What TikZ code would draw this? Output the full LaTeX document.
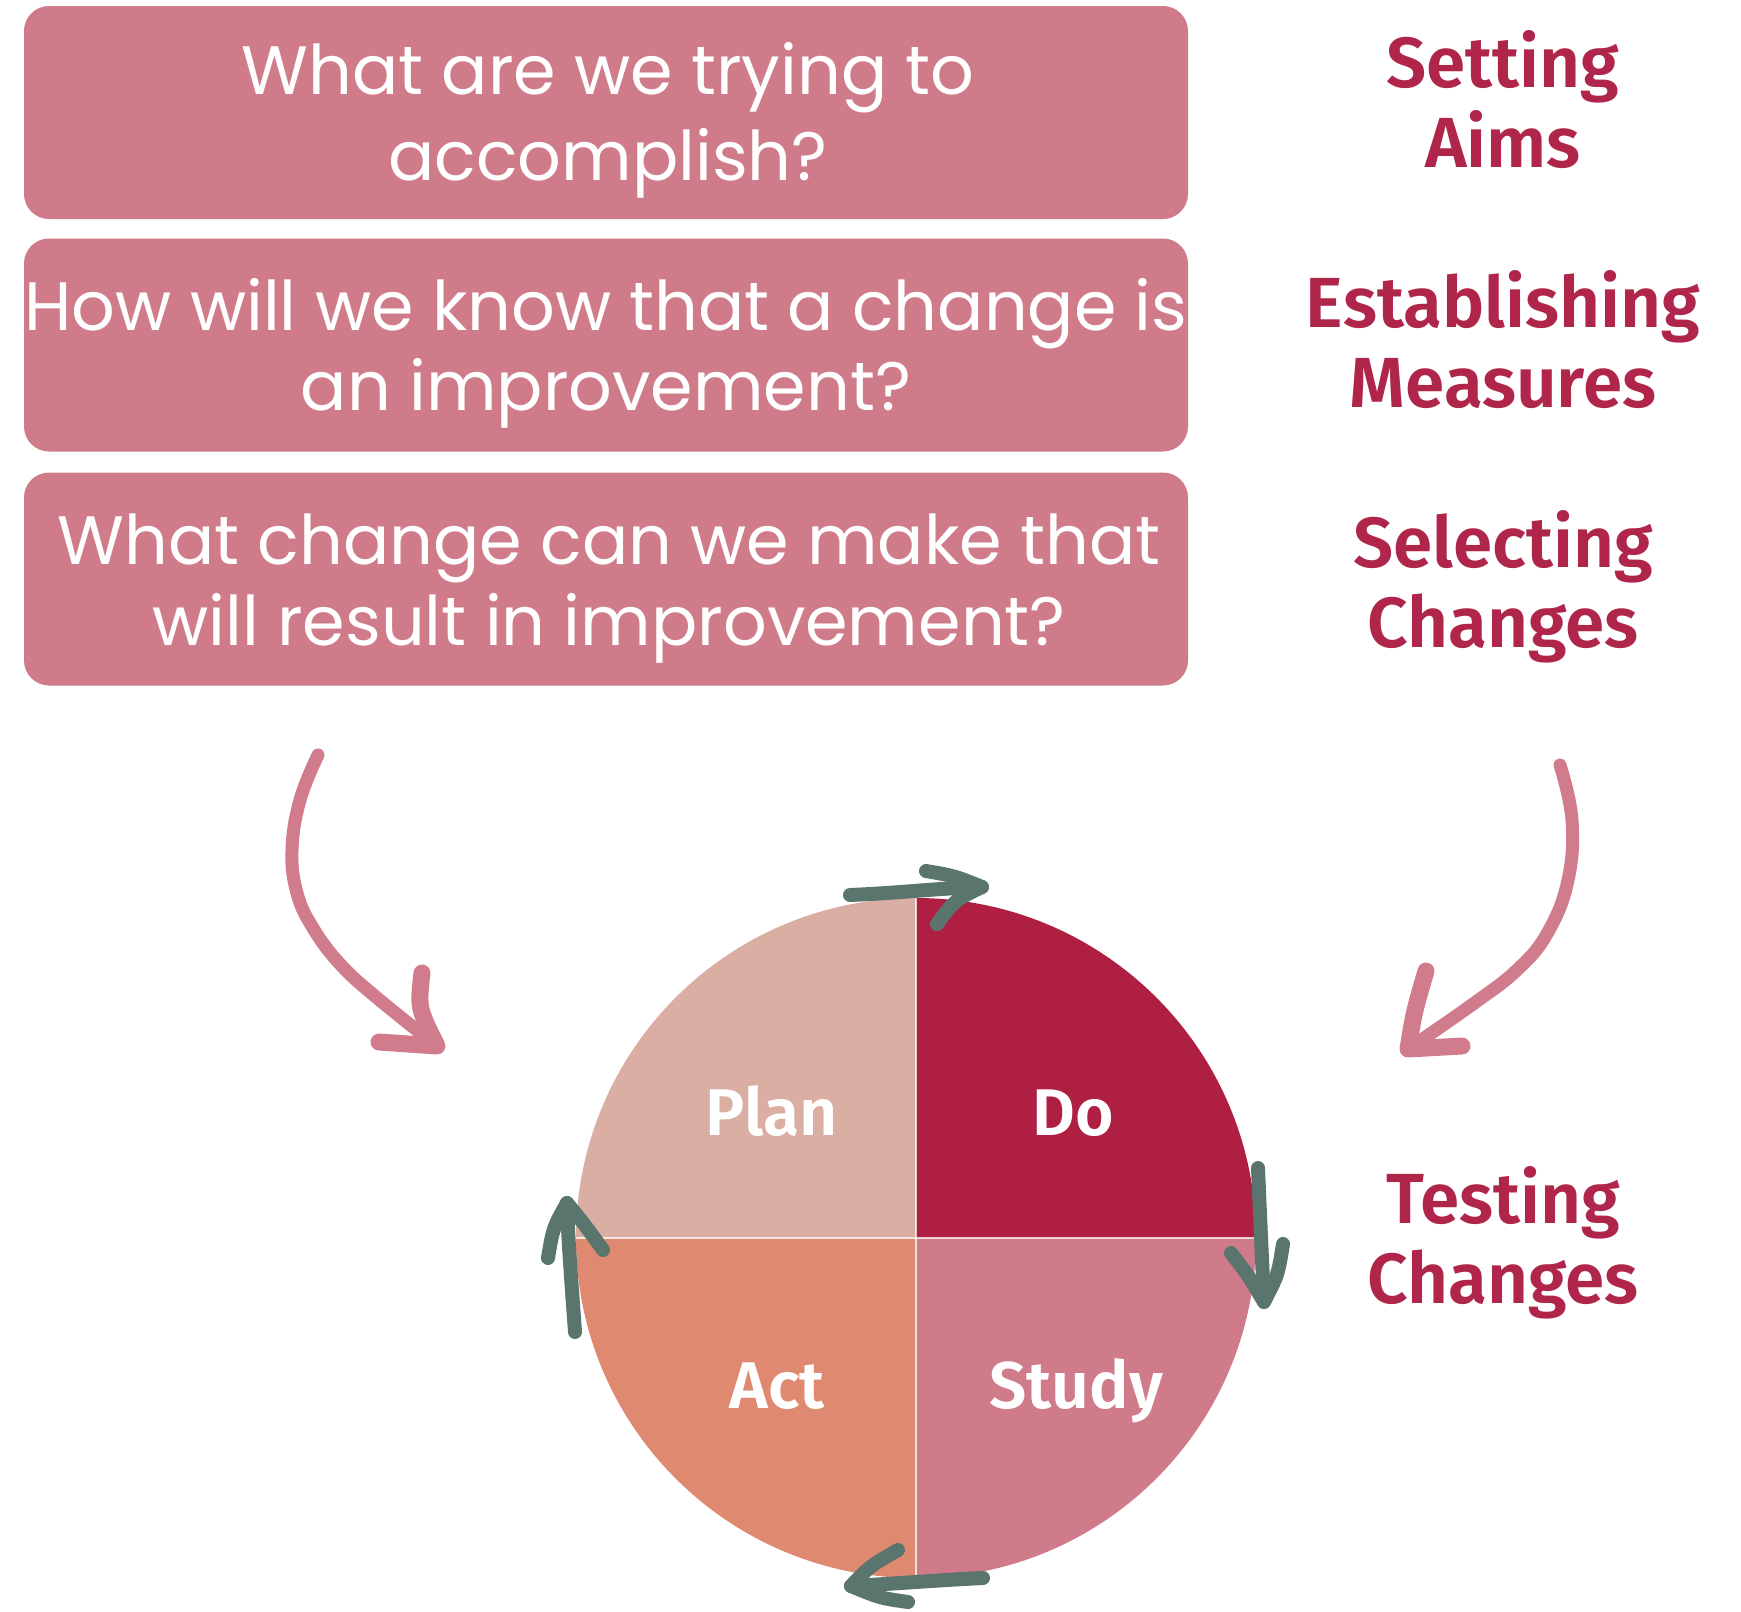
\documentclass[tikz,border=0pt]{standalone}
\usepackage{fontspec}
\setmainfont{Poppins}
\newfontfamily\labfont{Fira Sans SemiBold}
\definecolor{boxpink}{HTML}{CF7B8A}
\definecolor{labred}{HTML}{AF264A}
\definecolor{plancol}{HTML}{DAAEA3}
\definecolor{docol}{HTML}{AF1F42}
\definecolor{actcol}{HTML}{DF8A70}
\definecolor{studycol}{HTML}{CF7B8A}
\definecolor{arrowgreen}{HTML}{5A746E}
\definecolor{arrowpink}{HTML}{D07C8C}
\begin{document}
\begin{tikzpicture}[x=1pt,y=-1pt,
  qbox/.style={fill=boxpink, draw=none, rounded corners=25pt, minimum width=1164pt, minimum height=213pt, inner sep=0pt},
  qtext/.style={text=white, font=\fontsize{68.5}{82}\selectfont, anchor=base, inner sep=0pt},
  lab/.style={text=labred, font=\labfont\fontsize{71}{84}\selectfont, anchor=base, inner sep=0pt},
  quad/.style={text=white, font=\labfont\fontsize{66}{78}\selectfont, anchor=base, inner sep=0pt},
  garrow/.style={draw=arrowgreen, line width=14pt, line cap=round, line join=round},
  parrow/.style={draw=arrowpink, line width=13pt, line cap=round, line join=round},
  pbarb/.style={draw=arrowpink, line width=17pt, line cap=round, line join=round}]
\useasboundingbox (0,0) rectangle (1741,1612);
\fill[white] (0,0) rectangle (1741,1612);

% question boxes
\node[qbox] (box1) at (606,112.5) {};
\node[qbox] (box2) at (606,345) {};
\node[qbox] (box3) at (606,579) {};

\node[qtext] (q1a) at (608,94) {What are we trying to};
\node[qtext] (q1b) at (608,180) {accomplish?};
\node[qtext] (q2a) at (606,330) {How will we know that a change is};
\node[qtext] (q2b) at (606,410) {an improvement?};
\node[qtext] (q3a) at (609,564) {What change can we make that};
\node[qtext] (q3b) at (609,645) {will result in improvement?};

% right labels
\node[lab] (l1a) at (1503,87) {Setting};
\node[lab] (l1b) at (1503,167) {Aims};
\node[lab] (l2a) at (1503,327) {Establishing};
\node[lab] (l2b) at (1503,407) {Measures};
\node[lab] (l3a) at (1503,567) {Selecting};
\node[lab] (l3b) at (1503,647) {Changes};
\node[lab] (l4a) at (1503,1223) {Testing};
\node[lab] (l4b) at (1503,1303) {Changes};

% PDSA circle
\coordinate (C) at (916,1238);
\begin{scope}
  \clip (C) circle (340);
  \fill[plancol] (560,880) rectangle (916,1238);
  \fill[docol] (916,880) rectangle (1280,1238);
  \fill[actcol] (560,1238) rectangle (916,1600);
  \fill[studycol] (916,1238) rectangle (1280,1600);
  \draw[white, opacity=0.75, line width=1.5pt] (916,880) -- (916,1600);
  \draw[white, opacity=0.75, line width=1.5pt] (560,1238) -- (1280,1238);
\end{scope}
\node[circle, minimum size=680pt, inner sep=0pt, draw=none] (cyc) at (C) {};

\node[quad] (plan) at (772,1135) {Plan};
\node[quad] (do) at (1073,1135) {Do};
\node[quad] (act) at (777,1408) {Act};
\node[quad] (study) at (1076,1408) {Study};

% green cycle arrows
\coordinate (t0) at (850,895); \coordinate (t1) at (982,887);
\coordinate (t2) at (926,871); \coordinate (t3) at (937,924);
\draw[garrow] (t0) .. controls (900,893) and (940,888) .. (t1);
\draw[garrow] (t2) .. controls (955,876) .. (t1) .. controls (955,900) .. (t3);

\coordinate (r0) at (1258,1168); \coordinate (r1) at (1264,1302);
\coordinate (r2) at (1231,1253); \coordinate (r3) at (1283,1244);
\draw[garrow] (r0) .. controls (1260,1215) and (1262,1260) .. (r1);
\draw[garrow] (r2) .. controls (1248,1275) .. (r1) .. controls (1278,1275) .. (r3);

\coordinate (o0) at (983,1578); \coordinate (o1) at (851,1586);
\coordinate (o2) at (898,1550); \coordinate (o3) at (908,1602);
\draw[garrow] (o0) .. controls (940,1580) and (890,1584) .. (o1);
\draw[garrow] (o2) .. controls (870,1566) .. (o1) .. controls (880,1598) .. (o3);

\coordinate (w0) at (575,1332); \coordinate (w1) at (567,1203);
\coordinate (w2) at (548,1258); \coordinate (w3) at (603,1250);
\draw[garrow] (w0) .. controls (572,1290) and (568,1240) .. (w1);
\draw[garrow] (w2) .. controls (553,1228) .. (w1) .. controls (585,1225) .. (w3);

% pink curved arrows
\coordinate (pl0) at (318,755); \coordinate (pl1) at (437,1046);
\draw[parrow] plot[smooth, tension=0.7] coordinates {(318,755) (300,800) (292,850) (297,893) (313,928) (340,964) (376,997) (437,1046)};
\draw[pbarb] (422,973) .. controls (418,1008) .. (pl1) -- (379,1042);

\coordinate (pr0) at (1560,765); \coordinate (pr1) at (1408,1049);
\draw[parrow] plot[smooth, tension=0.7] coordinates {(1560,765) (1572,820) (1568,880) (1548,932) (1518,969) (1473,1004) (1408,1049)};
\draw[pbarb] (1426,971) .. controls (1414,1012) .. (pr1) -- (1462,1046);
\end{tikzpicture}
\end{document}
